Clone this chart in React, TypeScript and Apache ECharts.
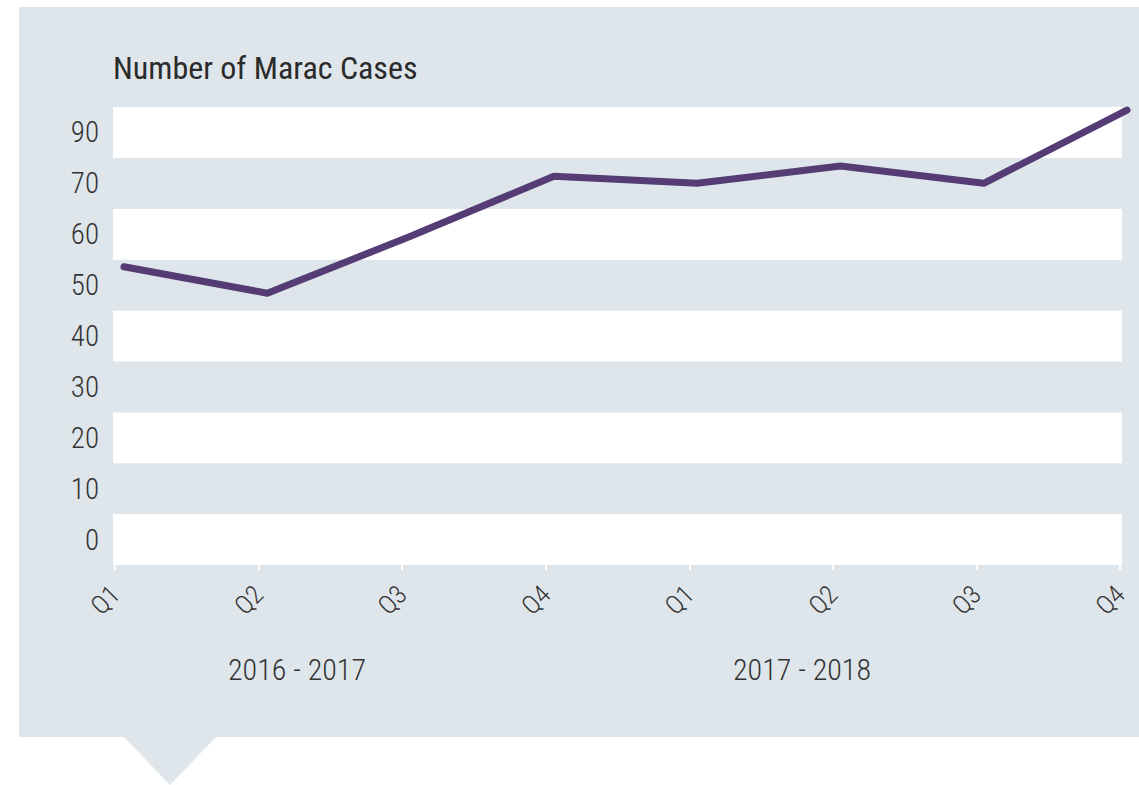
import React, { useEffect, useRef } from "react";
import * as echarts from "echarts";

const quarters = ["Q1", "Q2", "Q3", "Q4", "Q1", "Q2", "Q3", "Q4"];
const cases = [53.6, 48.4, 59.6, 71.4, 70, 73.4, 70, 84.4];
const yTickLabels = ["0", "10", "20", "30", "40", "50", "60", "70", "90"];
const yearGroups = ["2016 - 2017", "2017 - 2018"];
const chartTitle = "Number of Marac Cases";

const FONT = "'Roboto Condensed', 'Liberation Sans Narrow', Roboto, sans-serif";
const BG = "#dfe6eb";
const TEXT = "#333333";
const LINE = "#553c75";

export default function App() {
  const ref = useRef<HTMLDivElement>(null);

  useEffect(() => {
    if (!ref.current) return;
    const chart = echarts.init(ref.current, null, { renderer: "svg" });
    const groupX = [297, 802];
    chart.setOption({
      animation: false,
      backgroundColor: "#ffffff",
      textStyle: { fontFamily: FONT, fontWeight: 300 },
      graphic: [
        {
          type: "rect",
          z: -100,
          silent: true,
          shape: { x: 19, y: 7, width: 1120, height: 730 },
          style: { fill: BG },
        },
        {
          type: "polygon",
          z: -100,
          silent: true,
          shape: { points: [[123, 736], [217, 736], [170, 785]] },
          style: { fill: BG },
        },
        {
          type: "text",
          x: 113,
          y: 68,
          style: {
            text: chartTitle,
            fill: "#2b2b2b",
            font: `normal 32px ${FONT}`,
            textAlign: "left",
            textVerticalAlign: "middle",
          },
        },
        ...yearGroups.map((g, i) => ({
          type: "text",
          x: groupX[i],
          y: 669,
          style: {
            text: g,
            fill: TEXT,
            font: `300 30px ${FONT}`,
            textAlign: "center",
            textVerticalAlign: "middle",
          },
        })),
      ],
      grid: [
        { left: 113, right: 17, top: 107, bottom: 220 },
        { left: 115, right: 19, top: 107, bottom: 220 },
        { left: 124, right: 12, top: 107, bottom: 220 },
      ],
      xAxis: [
        { gridIndex: 0, type: "value", show: false, min: 0, max: 1 },
        {
          gridIndex: 1,
          type: "category",
          data: quarters,
          boundaryGap: false,
          axisLine: { show: false },
          axisTick: { show: true, length: 5, lineStyle: { color: "#ffffff", width: 2 } },
          axisLabel: {
            rotate: 45,
            margin: 25,
            fontSize: 26,
            fontWeight: 300,
            color: TEXT,
            fontFamily: FONT,
            interval: 0,
          },
          splitLine: { show: false },
        },
        { gridIndex: 2, type: "category", data: quarters, boundaryGap: false, show: false },
      ],
      yAxis: [
        {
          gridIndex: 0,
          type: "category",
          data: yTickLabels,
          boundaryGap: true,
          axisLine: { show: false },
          axisTick: { show: false },
          axisLabel: { fontSize: 29, fontWeight: 300, color: TEXT, margin: 14, fontFamily: FONT },
          splitLine: { show: false },
          splitArea: { show: true, areaStyle: { color: ["#ffffff", BG] } },
        },
        { gridIndex: 1, type: "value", show: false, min: 0, max: 1 },
        { gridIndex: 2, type: "value", show: false, min: -5, max: 85 },
      ],
      series: [
        {
          type: "line",
          xAxisIndex: 2,
          yAxisIndex: 2,
          data: cases,
          symbol: "none",
          lineStyle: { color: LINE, width: 7, cap: "round", join: "round" },
          z: 10,
        },
      ],
    });
    return () => chart.dispose();
  }, []);

  return (
    <div
      ref={ref}
      style={{ position: "fixed", left: 0, top: 0, width: 1139, height: 785 }}
    />
  );
}
